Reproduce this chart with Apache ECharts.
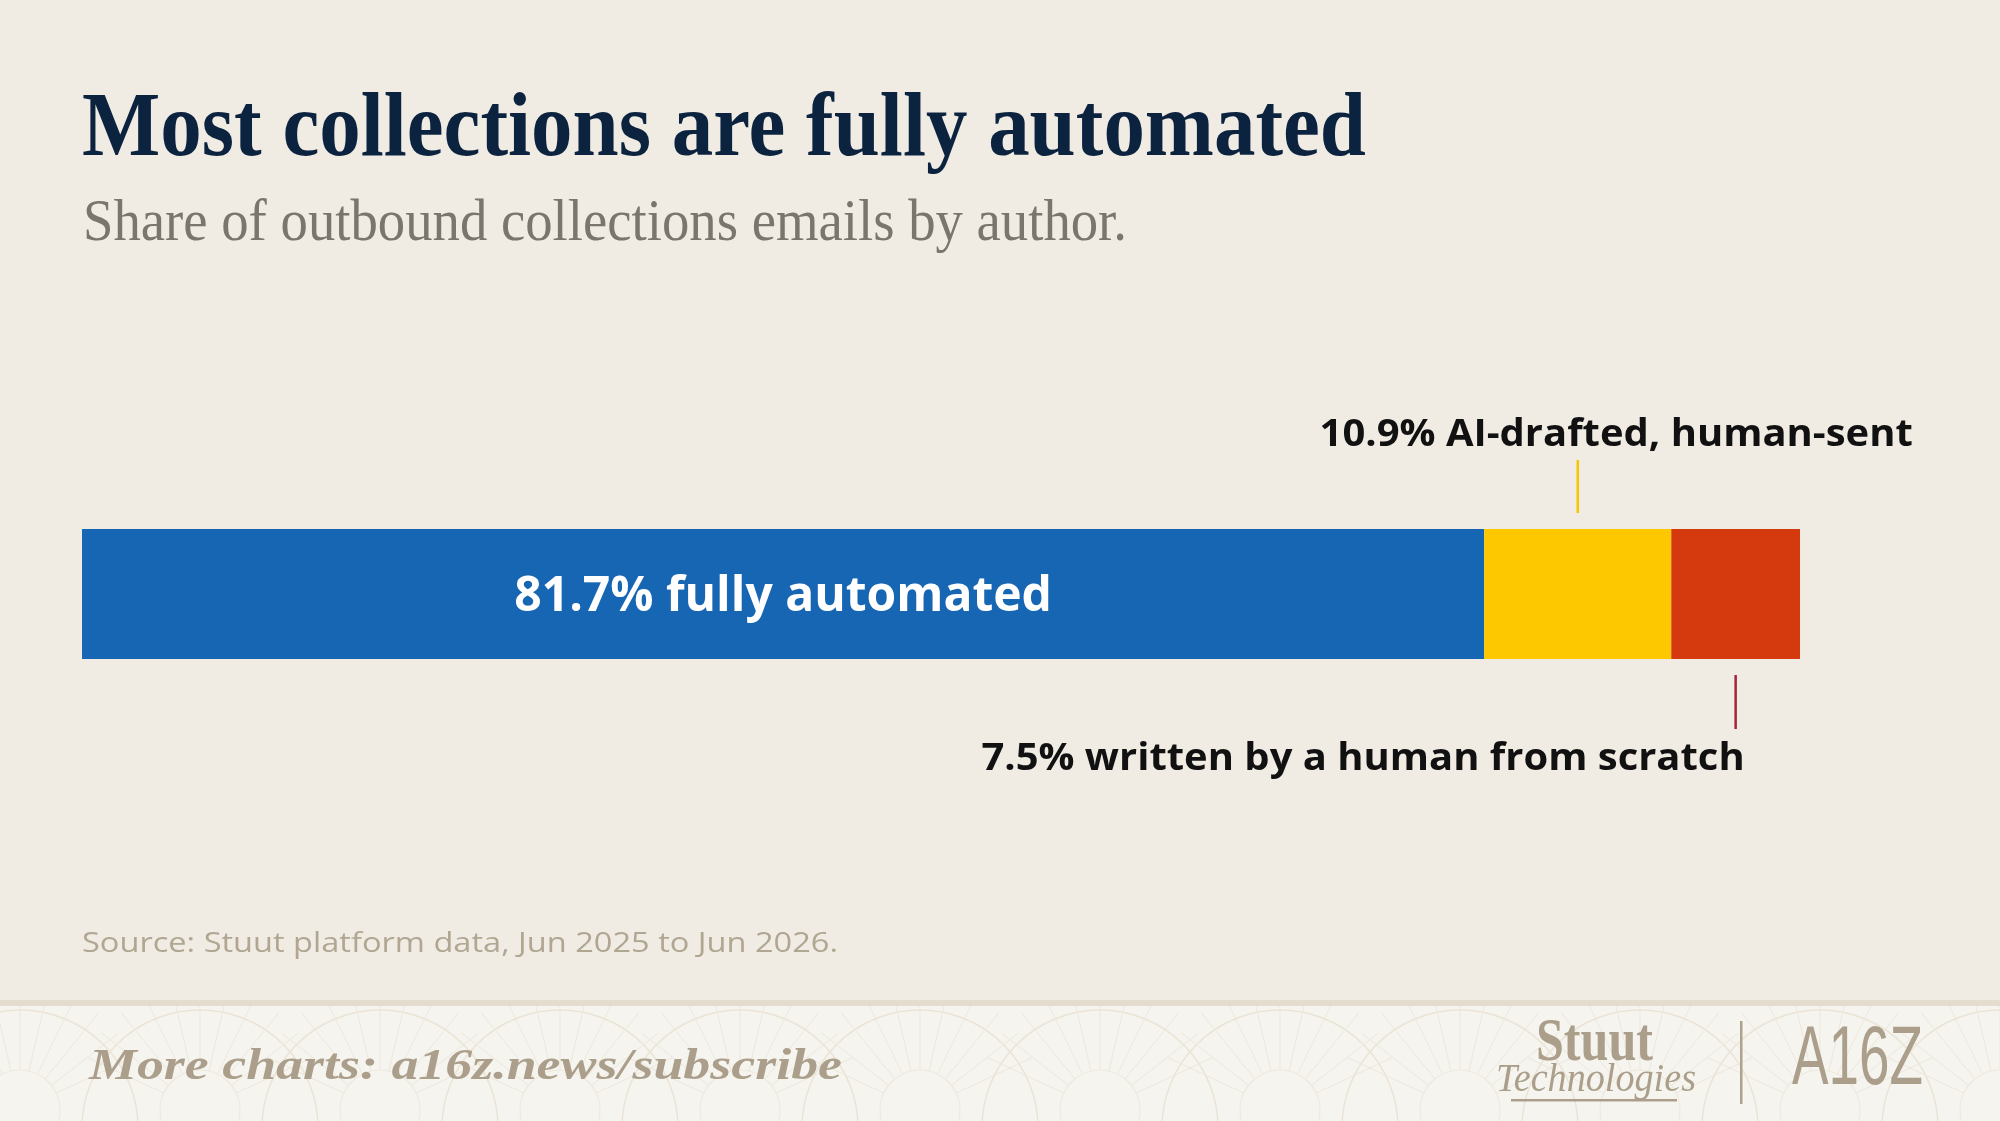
<!DOCTYPE html>
<html>
<head>
<meta charset="utf-8" />
<title>Most collections are fully automated</title>
<script src="https://cdn.jsdelivr.net/npm/echarts@6/dist/echarts.min.js"></script>
<style>
  html, body { margin: 0; padding: 0; background: #f0ece4; }
  #chart { width: 2000px; height: 1121px; }
</style>
</head>
<body>
<div id="chart"></div>
<script>
const categories = ["Outbound collections emails"];
const authorLabels = ["fully automated", "AI-drafted, human-sent", "written by a human from scratch"];
const shares = [81.7, 10.9, 7.5];

const titleText = "Most collections are fully automated";
const subtitleText = "Share of outbound collections emails by author.";
const sourceText = "Source: Stuut platform data, Jun 2025 to Jun 2026.";
const footerText = "More charts: a16z.news/subscribe";

const barColors = ["#1766b4", "#fdc800", "#d5390e"];
const leaderColors = [null, "#f6c500", "#a3243b"];
// where each callout sits relative to its segment
const calloutLayout = [null, { side: "top", dx: 335 }, { side: "bottom", dx: 9 }];

const labelFont = "'Open Sans'";
const measureCtx = document.createElement("canvas").getContext("2d");

function fitScale(text, font, width) {
  measureCtx.font = font;
  return width / measureCtx.measureText(text).width;
}

function fittedText(text, x, y, font, width, fill, extra) {
  return Object.assign({
    type: "text",
    x,
    y,
    scaleX: fitScale(text, font, width),
    silent: true,
    style: { text, font, fill, align: "left", verticalAlign: "middle", textAlign: "left", textVerticalAlign: "middle" },
  }, extra || {});
}

function footerPattern() {
  const items = [];
  for (let cx = 20; cx < 2100; cx += 180) {
    items.push({
      type: "circle",
      shape: { cx, cy: 1128, r: 118 },
      style: { fill: "none", stroke: "#ebe4d6", lineWidth: 1.5 },
    });
    items.push({
      type: "circle",
      shape: { cx, cy: 1110, r: 40 },
      style: { fill: "none", stroke: "#efe9de", lineWidth: 1.2 },
    });
    for (let a = 25; a <= 155; a += 13) {
      const rad = (a * Math.PI) / 180;
      items.push({
        type: "line",
        shape: {
          x1: cx + Math.cos(rad) * 40,
          y1: 1110 - Math.sin(rad) * 40,
          x2: cx + Math.cos(rad) * 125,
          y2: 1110 - Math.sin(rad) * 125,
        },
        style: { stroke: "#ede7dc", lineWidth: 1 },
      });
    }
  }
  return {
    type: "group",
    silent: true,
    clipPath: { type: "rect", shape: { x: 0, y: 1006, width: 2000, height: 115 } },
    children: items,
  };
}

const cumulative = [];
shares.reduce((acc, v, i) => {
  cumulative[i] = acc;
  return acc + v;
}, 0);
const total = shares.reduce((a, b) => a + b, 0);

const calloutData = shares
  .map((v, i) => [cumulative[i] + v / 2, 0, i])
  .filter((d) => d[2] > 0);

function renderCallout(params, api) {
  const idx = api.value(2);
  const layout = calloutLayout[idx];
  const pt = api.coord([api.value(0), api.value(1)]);
  const band = api.size([0, 1])[1];
  const top = pt[1] - band / 2;
  const bottom = pt[1] + band / 2;
  const text = `${shares[idx]}% ${authorLabels[idx]}`;
  const isTop = layout.side === "top";
  const y1 = isTop ? top - 16 : bottom + 16;
  const y2 = isTop ? top - 69 : bottom + 70;
  const ty = isTop ? top - 94 : bottom + 100;
  return {
    type: "group",
    children: [
      {
        type: "line",
        shape: { x1: pt[0], y1, x2: pt[0], y2 },
        style: { stroke: leaderColors[idx], lineWidth: 2.5 },
      },
      {
        type: "text",
        x: pt[0] + layout.dx,
        y: ty,
        scaleX: 1.08,
        style: {
          text,
          fill: "#111111",
          font: `bold 37px ${labelFont}`,
          align: "right",
          verticalAlign: "middle",
          textAlign: "right",
          textVerticalAlign: "middle",
        },
      },
    ],
  };
}

const chart = echarts.init(document.getElementById("chart"), null, { renderer: "canvas" });

chart.setOption({
  backgroundColor: "#f0ece4",
  animation: false,
  grid: { left: 82, right: 200, top: 529, height: 130, containLabel: false },
  xAxis: { type: "value", min: 0, max: total, show: false },
  yAxis: { type: "category", data: categories, show: false },
  graphic: [
    { type: "rect", silent: true, shape: { x: 0, y: 1000, width: 2000, height: 121 }, style: { fill: "#f6f4ef" } },
    footerPattern(),
    { type: "rect", silent: true, shape: { x: 0, y: 1000, width: 2000, height: 6 }, style: { fill: "#e4ddcf" } },
    fittedText(titleText, 82, 131, "bold 92px 'Liberation Serif'", 1284, "#0c2340"),
    fittedText(subtitleText, 83, 224, "normal 60px 'Liberation Serif'", 1044, "#7a766e"),
    fittedText(sourceText, 82, 944, "normal 28px 'Open Sans'", 756, "#b0a692"),
    fittedText(footerText, 89, 1067, "bold italic 45px 'Liberation Serif'", 753, "#ab9f8b"),
    fittedText("Stuut", 1536, 1044, "bold 62px 'Liberation Serif'", 117, "#ab9f8b"),
    fittedText("Technologies", 1496, 1080, "italic 40px 'Liberation Serif'", 200, "#ab9f8b"),
    { type: "rect", silent: true, shape: { x: 1511, y: 1099, width: 166, height: 2.5 }, style: { fill: "#ab9f8b" } },
    { type: "rect", silent: true, shape: { x: 1740, y: 1021, width: 2.5, height: 83 }, style: { fill: "#aea28f" } },
    fittedText("A16Z", 1792, 1061, "normal 84px 'Liberation Sans'", 131, "#ab9f8b"),
  ],
  series: [
    ...shares.map((v, i) => ({
      type: "bar",
      name: authorLabels[i],
      stack: "total",
      data: [v],
      barWidth: "100%",
      silent: true,
      itemStyle: { color: barColors[i] },
      label: i === 0
        ? {
            show: true,
            position: "inside",
            offset: [0, 3],
            formatter: (p) => `${p.value}% ${authorLabels[i]}`,
            color: "#ffffff",
            fontFamily: "Open Sans",
            fontWeight: "bold",
            fontSize: 48,
          }
        : { show: false },
    })),
    {
      type: "custom",
      coordinateSystem: "cartesian2d",
      data: calloutData,
      renderItem: renderCallout,
      silent: true,
      z: 10,
    },
  ],
});
</script>
</body>
</html>
